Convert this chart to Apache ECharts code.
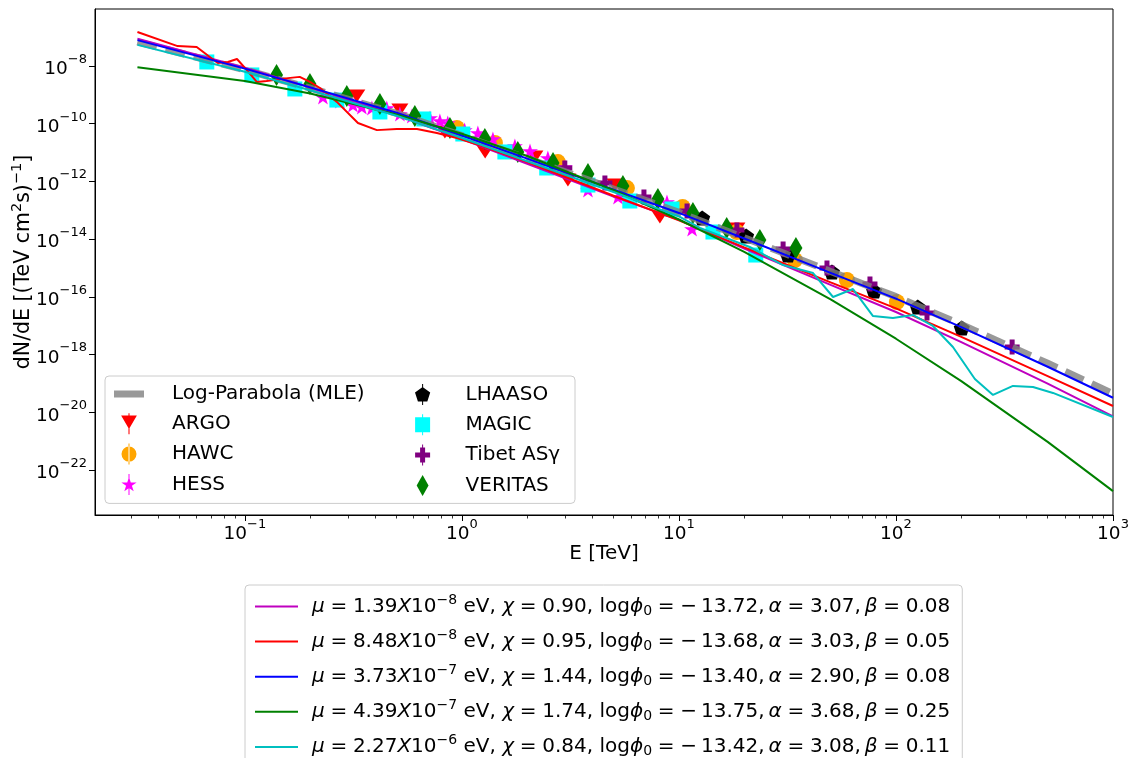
<!DOCTYPE html>
<html><head><meta charset="utf-8">
<script src="https://cdn.jsdelivr.net/npm/echarts@6/dist/echarts.min.js"></script>
<style>html,body{margin:0;padding:0;background:#fff}#c{width:1134px;height:758px}</style>
</head><body><div id="c"></div>
<script>
// ---------- data ----------
const xTickValues = [0.1, 1, 10, 100, 1000];
const xMinorTicks = [0.03,0.04,0.05,0.06,0.07,0.08,0.09,0.2,0.3,0.4,0.5,0.6,0.7,0.8,0.9,2,3,4,5,6,7,8,9,20,30,40,50,60,70,80,90,200,300,400,500,600,700,800,900];
const yTickValues = [1e-22, 1e-20, 1e-18, 1e-16, 1e-14, 1e-12, 1e-10, 1e-8];

const lineE   = [0.032, 0.1, 0.2, 0.5, 1, 2, 5, 10, 20, 50, 100, 200, 500, 1000];
const mleF    = [6.8e-8, 7.4e-9, 1.7e-9, 2.3e-10, 3.9e-11, 6.3e-12, 5.5e-13, 8.5e-14, 1.12e-14, 7.6e-16, 1.02e-16, 1.1e-17, 5.0e-19, 4.4e-20];
const magentaF= [8.9e-8, 8.7e-9, 1.79e-9, 2.02e-10, 2.92e-11, 4.11e-12, 2.99e-13, 4.68e-14, 4.72e-15, 2.61e-16, 2.99e-17, 2.72e-18, 9.9e-20, 7.3e-21];
const blueF   = [7.9e-8, 8.1e-9, 1.82e-9, 2.4e-10, 3.9e-11, 6.2e-12, 5.2e-13, 8.1e-14, 1.05e-14, 6.8e-16, 8.7e-17, 8.9e-18, 3.8e-19, 3.2e-20];
const greenF  = [9.0e-9, 3.0e-9, 1.12e-9, 2.1e-10, 4.5e-11, 7.6e-12, 4.95e-13, 4.8e-14, 3.6e-15, 8.2e-17, 3.55e-18, 1.21e-19, 9.5e-22, 1.86e-23];

const redE = [0.032, 0.049, 0.060, 0.075, 0.0835, 0.092, 0.102, 0.1135, 0.126, 0.158, 0.179, 0.1995, 0.222, 0.2655, 0.332, 0.406, 0.501, 0.621, 0.767, 0.948, 1.21, 2, 5, 10, 20, 50, 100, 200, 500, 1000];
const redF = [1.51e-7, 4.9e-8, 4.55e-8, 1.27e-8, 1.38e-8, 1.75e-8, 7.3e-9, 2.8e-9, 3.0e-9, 3.8e-9, 4.2e-9, 2.8e-9, 1.73e-9, 5.7e-10, 1.06e-10, 6.0e-11, 6.6e-11, 6.6e-11, 4.8e-11, 3.2e-11, 1.8e-11, 4.7e-12, 3.2e-13, 4.5e-14, 5.2e-15, 3.2e-16, 4.0e-17, 4.1e-18, 1.8e-19, 1.66e-20];

const cyanE = [0.032, 0.1, 0.2, 0.5, 1, 2, 5, 10.1, 12.5, 21.2, 30.2, 41.5, 51.3, 63.4, 78.4, 96.8, 120, 148, 183, 231, 280, 346, 428, 529, 1000];
const cyanF = [5.4e-8, 6.3e-9, 1.45e-9, 1.9e-10, 3.2e-11, 5.0e-12, 4.3e-13, 5.9e-14, 2.44e-14, 5.35e-15, 1.27e-15, 6.7e-16, 9.9e-17, 1.87e-16, 2.17e-17, 1.85e-17, 2.35e-17, 9.8e-18, 1.83e-18, 1.43e-19, 4.0e-20, 8.2e-20, 7.5e-20, 4.7e-20, 6.9e-21];

const argoE = [0.328, 0.518, 0.835, 1.28, 2.17, 3.08, 5.07, 8.17, 18.5];
const argoF = [9.1e-10, 3.0e-10, 5.2e-11, 1.05e-11, 7.0e-12, 1.12e-12, 7.5e-13, 5.9e-14, 2.25e-14];
const hawcE = [0.948, 1.42, 2.77, 5.76, 10.4, 18.5, 34.2, 59.4, 101];
const hawcF = [7.1e-11, 2.15e-11, 4.7e-12, 5.9e-13, 1.3e-13, 1.77e-14, 1.9e-15, 3.85e-16, 6.65e-17];
const hessE = [0.229, 0.274, 0.315, 0.346, 0.385, 0.451, 0.518, 0.588, 0.713, 0.792, 0.861, 1.03, 1.185, 1.39, 1.755, 2.06, 2.49, 2.98, 3.81, 5.24, 8.81, 11.5];
const hessF = [8.4e-10, 6.1e-10, 4.45e-10, 3.8e-10, 3.5e-10, 3.5e-10, 2.17e-10, 1.85e-10, 1.58e-10, 1.24e-10, 1.06e-10, 6.05e-11, 4.77e-11, 2.96e-11, 1.69e-11, 1.14e-11, 6.5e-12, 3.16e-12, 5.05e-13, 2.89e-13, 1.94e-13, 2.25e-14];
const lhaasoE = [12.8, 20.4, 31.8, 50.7, 79.3, 126, 201];
const lhaasoF = [5.4e-14, 1.29e-14, 2.82e-15, 7.3e-16, 1.6e-16, 4.46e-17, 8.4e-18];
const magicE = [0.0668, 0.1077, 0.170, 0.2655, 0.419, 0.668, 1.01, 1.578, 2.46, 3.81, 5.94, 9.29, 14.35, 22.6];
const magicF = [1.38e-8, 4.9e-9, 1.6e-9, 6.6e-10, 2.55e-10, 1.46e-10, 4.4e-11, 1.05e-11, 2.92e-12, 7.5e-13, 2.1e-13, 1.11e-13, 1.77e-14, 2.82e-15];
const tibetE = [2.98, 4.56, 6.90, 10.9, 18.5, 30.2, 48.1, 75.9, 139, 343];
const tibetF = [2.92e-12, 8.8e-13, 2.89e-13, 9.5e-14, 2.07e-14, 4.56e-15, 1.0e-15, 2.79e-16, 2.76e-17, 1.83e-18];
const veritasE = [0.140, 0.1995, 0.295, 0.419, 0.607, 0.881, 1.276, 1.81, 2.63, 3.81, 5.52, 8.0, 11.6, 16.6, 23.6, 34.6];
const veritasF = [4.9e-9, 2.4e-9, 9.1e-10, 4.8e-10, 1.85e-10, 7.1e-11, 2.96e-11, 1.05e-11, 4.36e-12, 1.81e-12, 6.95e-13, 2.47e-13, 8.05e-14, 2.44e-14, 9.3e-15, 4.94e-15];

// model legend parameters
const modelMu    = ['1.39', '8.48', '3.73', '4.39', '2.27'];
const modelMuExp = ['−8', '−8', '−7', '−7', '−6'];
const modelChi   = ['0.90', '0.95', '1.44', '1.74', '0.84'];
const modelPhi0  = ['13.72', '13.68', '13.40', '13.75', '13.42'];
const modelAlpha = ['3.07', '3.03', '2.90', '3.68', '3.08'];
const modelBeta  = ['0.08', '0.05', '0.08', '0.25', '0.11'];

// ---------- styling / building ----------
const FONT = 'DejaVu Sans';
const modelColors = ['#bf00bf', '#ff0000', '#0000ff', '#008000', '#00bfbf'];
const modelData = [magentaF, redF, blueF, greenF, cyanF];
const modelX = [lineE, redE, lineE, lineE, cyanE];

// marker shapes for the plot
const P = {
  triDown: 'path://M0,0 L20,0 L10,17 Z',
  star: 'path://M10,0 L12.245,6.91 L19.511,6.91 L13.633,11.18 L15.878,18.09 L10,13.82 L4.122,18.09 L6.367,11.18 L0.489,6.91 L7.755,6.91 Z',
  pent: 'path://M10,0 L19.511,6.91 L15.878,18.09 L4.122,18.09 L0.489,6.91 Z',
  plus: 'path://M2,0 H4 V2 H6 V4 H4 V6 H2 V4 H0 V2 H2 Z',
  square: 'path://M0,0 H10 V10 H0 Z',
  dia: 'path://M6,0 L12,11 L6,22 L0,11 Z',
  bar: 'path://M0,0 H30 V7 H0 Z',
  line: 'path://M0,0 H43 V2 H0 Z'
};
// legend handles (marker with its error bar)
const L = {
  argo: 'path://M0,0 L15,0 L7.5,13 Z M7,-2 H8 V18 H7 Z',
  hawc: 'path://M0,7.5 A7.5,7.5 0 1,0 15,7.5 A7.5,7.5 0 1,0 0,7.5 Z M7,-3 H8 V18 H7 Z',
  hess: 'path://M8,0 L9.796,5.528 L15.609,5.528 L10.906,8.944 L12.702,14.472 L8,11.056 L3.298,14.472 L5.094,8.944 L0.391,5.528 L6.204,5.528 Z M7.5,-3 H8.5 V18 H7.5 Z',
  lhaaso: 'path://M8,0 L15.6,5.53 L12.7,14.47 L3.3,14.47 L0.39,5.53 Z M7.5,-3 H8.5 V18 H7.5 Z',
  magic: 'path://M0,0 H15 V15 H0 Z M7,-3 H8 V0 H7 Z M7,15 H8 V18 H7 Z',
  tibet: 'path://M5,0 H10 V5 H15 V10 H10 V15 H5 V10 H0 V5 H5 Z M7,-3 H8 V18 H7 Z',
  veritas: 'path://M6.5,0 L13,11.5 L6.5,23 L0,11.5 Z'
};

function pairs(xs, ys) { return xs.map((x, i) => [x, ys[i]]); }
function supLabel(v) {
  const e = Math.round(Math.log10(v));
  return '{b|10}{sup|' + (e < 0 ? '−' + (-e) : String(e)) + '}';
}
const tickRich = {
  b: {fontSize: 18.5, fontFamily: FONT, color: '#000', lineHeight: 26, verticalAlign: 'bottom'},
  sup: {fontSize: 13, fontFamily: FONT, color: '#000', lineHeight: 26, verticalAlign: 'top'}
};

const modelNames = modelMu.map((m, i) =>
  '{pad| }{i|μ}{eq|=}' + m + '{i|X}10{sup|' + modelMuExp[i] + '} eV, {i|χ}{eq|=}' + modelChi[i] +
  ', log{i|ϕ}{sub|0}{eq|=}−\u2009' + modelPhi0[i] + ',\u2009{i|α}{eq|=}' + modelAlpha[i] +
  ',\u2009{i|β}{eq|=}' + modelBeta[i]);

const scatterDefs = [
  {name: 'ARGO', x: argoE, y: argoF, color: '#ff0000', symbol: P.triDown, size: [17, 13]},
  {name: 'HAWC', x: hawcE, y: hawcF, color: '#ffa500', symbol: 'circle', size: 16},
  {name: 'HESS', x: hessE, y: hessF, color: '#ff00ff', symbol: P.star, size: [16, 15]},
  {name: 'LHAASO', x: lhaasoE, y: lhaasoF, color: '#000000', symbol: P.pent, size: [16, 15]},
  {name: 'MAGIC', x: magicE, y: magicF, color: '#00ffff', symbol: P.square, size: [15, 15]},
  {name: 'Tibet ASγ', x: tibetE, y: tibetF, color: '#800080', symbol: P.plus, size: [15, 15]},
  {name: 'VERITAS', x: veritasE, y: veritasF, color: '#008000', symbol: P.dia, size: [13, 22]}
];

const series = [];
scatterDefs.forEach(d => series.push({
  type: 'scatter', name: d.name, data: pairs(d.x, d.y), symbol: d.symbol, symbolSize: d.size,
  itemStyle: {color: d.color, opacity: 1}, z: 2, silent: true
}));
series.push({
  type: 'line', name: 'Log-Parabola (MLE)', data: pairs(lineE, mleF), symbol: 'none',
  lineStyle: {color: 'rgba(128,128,128,0.8)', width: 7, type: [20, 9]},
  itemStyle: {color: '#999999'}, z: 3, silent: true
});
modelNames.forEach((n, i) => series.push({
  type: 'line', name: n, data: pairs(modelX[i], modelData[i]), symbol: 'none', showSymbol: false,
  lineStyle: {color: modelColors[i], width: 2}, itemStyle: {color: modelColors[i]}, z: 4, silent: true
}));

const legendText = {fontSize: 20, fontFamily: FONT, color: '#000', lineHeight: 20, padding: [0, 0, 0, 23]};
const option = {
  animation: false,
  backgroundColor: '#fff',
  textStyle: {fontFamily: FONT},
  grid: {left: 95, top: 9, width: 1018, height: 506, containLabel: false, outerBoundsMode: 'none',
    show: true, borderColor: '#000', borderWidth: 1, backgroundColor: 'transparent'},
  xAxis: [{
    type: 'log', logBase: 10, min: 0.0204, max: 1000, gridIndex: 0,
    name: 'E [TeV]', nameLocation: 'middle', nameGap: 29, nameMoveOverlap: false,
    nameTextStyle: {fontSize: 20, fontFamily: FONT, color: '#000'},
    axisLine: {show: true, lineStyle: {color: '#000', width: 1}},
    axisTick: {show: true, length: 6, lineStyle: {color: '#000', width: 1}, customValues: xTickValues},
    axisLabel: {show: true, margin: 3, fontSize: 18.5, fontFamily: FONT, color: '#000', customValues: xTickValues,
      formatter: supLabel, rich: tickRich},
    splitLine: {show: false}, minorTick: {show: false}
  }, {
    type: 'log', logBase: 10, min: 0.0204, max: 1000, gridIndex: 0, position: 'bottom', offset: 0,
    axisLine: {show: false}, axisLabel: {show: false}, splitLine: {show: false},
    axisTick: {show: true, length: 3.5, lineStyle: {color: '#000', width: 0.8}, customValues: xMinorTicks}
  }],
  yAxis: [{
    type: 'log', logBase: 10, min: 2.77e-24, max: 9.44e-7,
    name: 'dN/dE [(TeV cm{sup|2}s){sup|−1}]', nameLocation: 'middle', nameGap: 58, nameMoveOverlap: false,
    nameTextStyle: {fontSize: 20.5, fontFamily: FONT, color: '#000',
      rich: {sup: {fontSize: 14.5, fontFamily: FONT, color: '#000', padding: [0, 0, 12, 0]}}},
    axisLine: {show: true, lineStyle: {color: '#000', width: 1}},
    axisTick: {show: true, length: 6, lineStyle: {color: '#000', width: 1}, customValues: yTickValues},
    axisLabel: {show: true, margin: 8, fontSize: 18.5, fontFamily: FONT, color: '#000', customValues: yTickValues,
      formatter: supLabel, rich: tickRich},
    splitLine: {show: false}
  }],
  legend: [{
    data: [{name: 'Log-Parabola (MLE)', icon: P.bar}, {name: 'ARGO', icon: L.argo}, {name: 'HAWC', icon: L.hawc}, {name: 'HESS', icon: L.hess}],
    orient: 'vertical', left: 105, top: 376, padding: [8, 203, 8.5, 9],
    itemWidth: 30, itemHeight: 21, itemGap: 9.3, selectedMode: false,
    textStyle: Object.assign({width: 200}, legendText),
    backgroundColor: 'rgba(255,255,255,0.8)', borderColor: '#cccccc', borderWidth: 1, borderRadius: 4, z: 5
  }, {
    data: [{name: 'LHAASO', icon: L.lhaaso}, {name: 'MAGIC', icon: L.magic}, {name: 'Tibet ASγ', icon: L.tibet}, {name: 'VERITAS', icon: L.veritas}],
    orient: 'vertical', left: 415, top: 384, padding: 0,
    itemWidth: 30, itemHeight: 21, itemGap: 9.3, selectedMode: false,
    textStyle: legendText, z: 6
  }, {
    data: modelNames.map(n => ({name: n, icon: P.line})),
    orient: 'vertical', left: 245, top: 585, height: 400, padding: [8, 12, 10, 10],
    itemWidth: 43, itemHeight: 14, itemGap: 9.6, selectedMode: false,
    formatter: n => n,
    textStyle: {fontSize: 20, fontFamily: FONT, color: '#000', lineHeight: 24,
      rich: {
        pad: {width: 9, fontSize: 20},
        eq: {fontSize: 20, fontFamily: FONT, color: '#000', padding: [0, 5.7, 0, 5.7]},
        i: {fontSize: 20, fontFamily: FONT, fontStyle: 'italic', color: '#000'},
        sup: {fontSize: 14, fontFamily: FONT, color: '#000', padding: [0, 0, 13, 0]},
        sub: {fontSize: 14, fontFamily: FONT, color: '#000', padding: [9, 0, 0, 0]}
      }},
    backgroundColor: '#fff', borderColor: '#cccccc', borderWidth: 1, borderRadius: 4, z: 5
  }],
  series: series
};

const chart = echarts.init(document.getElementById('c'), null, {renderer: 'canvas'});
chart.setOption(option);
</script></body></html>
